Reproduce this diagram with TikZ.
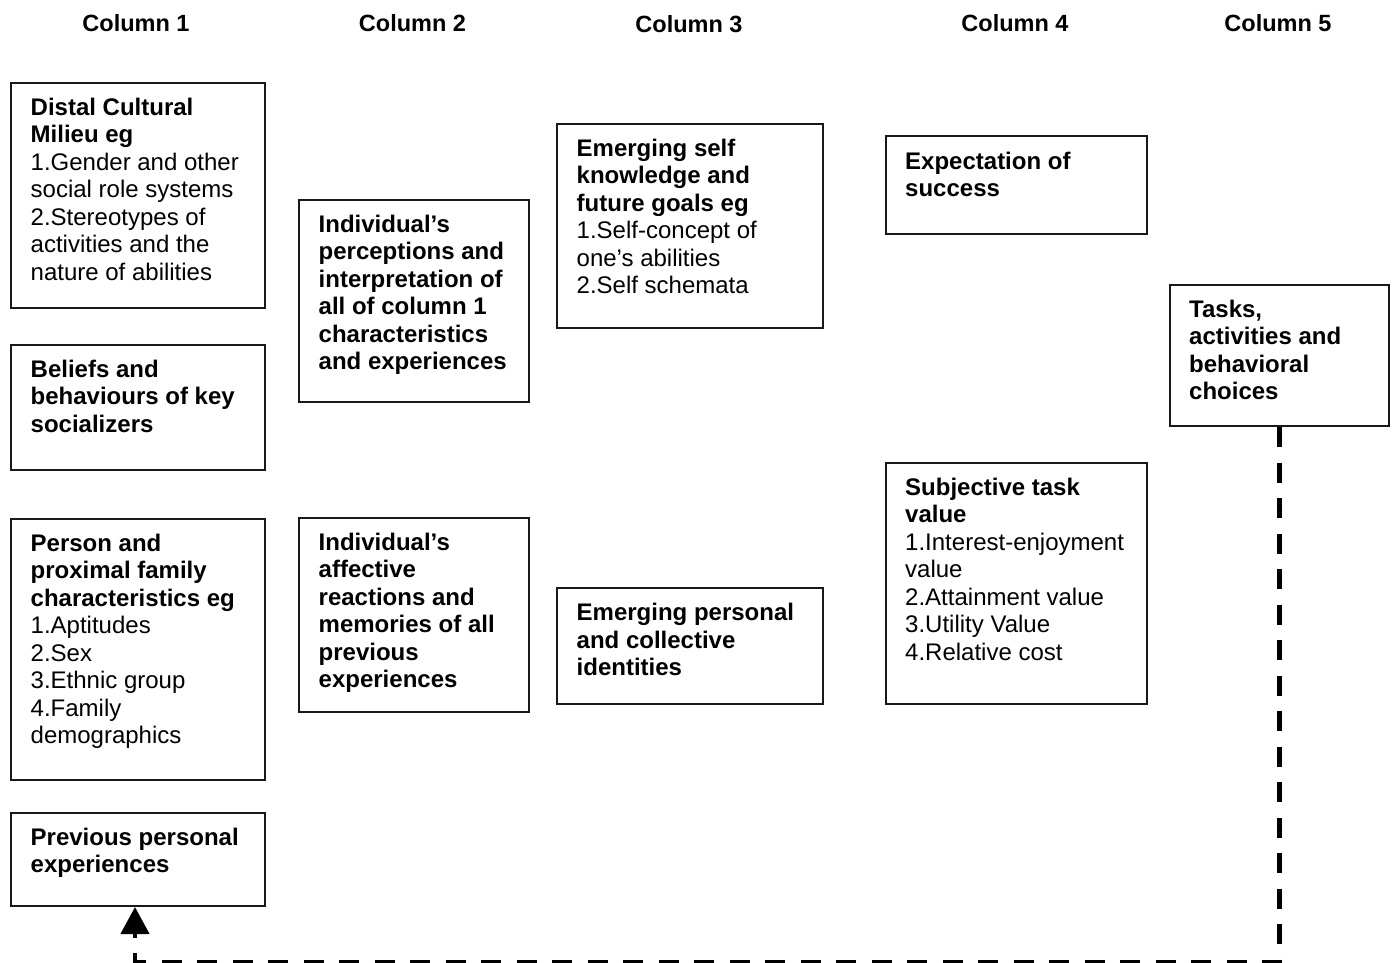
\documentclass[tikz,border=0pt]{standalone}
\usepackage{fontspec}
\setmainfont{Liberation Sans}
\usetikzlibrary{arrows.meta}

\tikzset{
  colhead/.style={anchor=base, inner sep=0pt, font=\fontsize{23.5}{27.5}\selectfont\bfseries},
  colbox/.style={draw=black!90, line width=2pt, anchor=north west, inner sep=0pt},
  boxtext/.style={anchor=north west, inner sep=0pt, align=left, font=\fontsize{24}{27.5}\selectfont},
  boldtext/.style={boxtext, font=\fontsize{24}{27.5}\selectfont\bfseries},
  feedback/.style={line width=4.5pt, dash pattern=on 20pt off 15.5pt, -{Triangle[width=28pt,length=27pt]}}
}

\begin{document}
\begin{tikzpicture}[x=1pt, y=-1pt]
  \useasboundingbox (0,0) rectangle (1392,963);

  % 列标题
  \node[colhead] (head1) at (136,32) {Column 1};
  \node[colhead] (head2) at (412.5,32) {Column 2};
  \node[colhead] (head3) at (689,33) {Column 3};
  \node[colhead] (head4) at (1015,32) {Column 4};
  \node[colhead] (head5) at (1278,32) {Column 5};

  % 第1列
  \node[colbox, minimum width=254, minimum height=225] (distal) at (10,82) {};
  \node[boxtext] (distal-t) at ([shift={(20.5,15.5)}]distal.north west)
    {\textbf{Distal Cultural}\\\textbf{Milieu eg}\\1.Gender and other\\social role systems\\2.Stereotypes of\\activities and the\\nature of abilities};

  \node[colbox, minimum width=254, minimum height=125] (beliefs) at (10,344) {};
  \node[boldtext] (beliefs-t) at ([shift={(20.5,15.5)}]beliefs.north west)
    {Beliefs and\\behaviours of key\\socializers};

  \node[colbox, minimum width=254, minimum height=261] (family) at (10,518) {};
  \node[boxtext] (family-t) at ([shift={(20.5,15.5)}]family.north west)
    {\textbf{Person and}\\\textbf{proximal family}\\\textbf{characteristics eg}\\1.Aptitudes\\2.Sex\\3.Ethnic group\\4.Family\\demographics};

  \node[colbox, minimum width=254, minimum height=93] (previous) at (10,812) {};
  \node[boldtext] (previous-t) at ([shift={(20.5,15.5)}]previous.north west)
    {Previous personal\\experiences};

  % 第2列
  \node[colbox, minimum width=230, minimum height=202] (percept) at (298,199) {};
  \node[boldtext] (percept-t) at ([shift={(20.5,15.5)}]percept.north west)
    {Individual’s\\perceptions and\\interpretation of\\all of column 1\\characteristics\\and experiences};

  \node[colbox, minimum width=230, minimum height=194] (affect) at (298,517) {};
  \node[boldtext] (affect-t) at ([shift={(20.5,15.5)}]affect.north west)
    {Individual’s\\affective\\reactions and\\memories of all\\previous\\experiences};

  % 第3列
  \node[colbox, minimum width=266, minimum height=204] (selfknow) at (556,123) {};
  \node[boxtext] (selfknow-t) at ([shift={(20.5,15.5)}]selfknow.north west)
    {\textbf{Emerging self}\\\textbf{knowledge and}\\\textbf{future goals eg}\\1.Self-concept of\\one’s abilities\\2.Self schemata};

  \node[colbox, minimum width=266, minimum height=116] (identity) at (556,587) {};
  \node[boldtext] (identity-t) at ([shift={(20.5,16)}]identity.north west)
    {Emerging personal\\and collective\\identities};

  % 第4列
  \node[colbox, minimum width=261, minimum height=98] (expect) at (885,135) {};
  \node[boldtext] (expect-t) at ([shift={(20,16.5)}]expect.north west)
    {Expectation of\\success};

  \node[colbox, minimum width=261, minimum height=241] (taskval) at (885,462) {};
  \node[boxtext] (taskval-t) at ([shift={(20,15.5)}]taskval.north west)
    {\textbf{Subjective task}\\\textbf{value}\\1.Interest-enjoyment\\value\\2.Attainment value\\3.Utility Value\\4.Relative cost};

  % 第5列
  \node[colbox, minimum width=219, minimum height=141] (choices) at (1169,284) {};
  \node[boldtext] (choices-t) at ([shift={(20,15.5)}]choices.north west)
    {Tasks,\\activities and\\behavioral\\choices};

  % 反馈虚线
  \coordinate (corner) at (choices.south |- 0,962);
  \coordinate (foot) at ([xshift=-3]previous.south);
  \draw[feedback] (choices.south) -- (corner) -| (foot);
\end{tikzpicture}
\end{document}
